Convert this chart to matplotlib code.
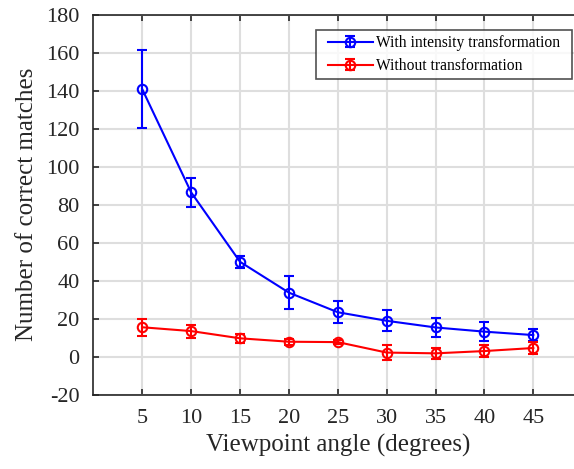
import matplotlib
matplotlib.use("Agg")
import matplotlib.pyplot as plt
from matplotlib.legend_handler import HandlerErrorbar
from matplotlib.container import ErrorbarContainer
import numpy as np

plt.rcParams['font.family'] = ['Liberation Serif', 'DejaVu Serif']
plt.rcParams['axes.unicode_minus'] = False

angles = [5, 10, 15, 20, 25, 30, 35, 40, 45]
with_mean = [140.7, 86.5, 50, 33.8, 23.5, 19, 15.5, 13.3, 11.5]
with_err = [20.4, 7.5, 3, 8.5, 5.7, 5.5, 5, 5, 3.2]
without_mean = [15.6, 13.6, 9.8, 8.0, 7.8, 2.3, 1.9, 3.1, 4.7]
without_err = [4.6, 3.4, 2.5, 1.5, 1.0, 4.0, 3.0, 3.0, 3.0]

xticks = [5, 10, 15, 20, 25, 30, 35, 40, 45]
yticks = list(range(-20, 181, 20))

W, H = 574, 469
fig = plt.figure(figsize=(W/100, H/100), dpi=100)
left, right = 93.4, 582.2
bottom, top = 395, 14.5
ax = fig.add_axes([left/W, 1-bottom/H, (right-left)/W, (bottom-top)/H])

ax.errorbar(angles, with_mean, yerr=with_err, color='#0000ff', marker='o',
            mfc='none', mec='#0000ff', ms=6.8, mew=1.5, lw=1.5, capsize=3.4,
            elinewidth=1.5, capthick=1.5, label='With intensity transformation', zorder=3)
ax.errorbar(angles, without_mean, yerr=without_err, color='#ff0000', marker='o',
            mfc='none', mec='#ff0000', ms=6.8, mew=1.5, lw=1.5, capsize=3.4,
            elinewidth=1.5, capthick=1.5, label='Without transformation', zorder=3)

ax.set_xlim(0, 50)
ax.set_ylim(-20, 180)
ax.set_xticks(xticks)
ax.set_yticks(yticks)
ax.grid(True, color='#dedede', lw=1.5)
ax.set_axisbelow(True)
ax.tick_params(direction='in', length=4, width=1.2, colors='#262626',
               labelsize=16, top=True, right=True, pad=10, labelcolor='#262626')
for s in ax.spines.values():
    s.set_color('#262626')
    s.set_linewidth(1.2)

ax.set_xlabel('Viewpoint angle (degrees)', fontsize=18, color='#262626', labelpad=4)
ax.set_ylabel('Number of correct matches', fontsize=18, color='#262626', labelpad=6)

lx0 = (316 - left) / (right - left)
lx1 = (572 - left) / (right - left)
ly1 = (bottom - 29.5) / (bottom - top)
ly0 = (bottom - 78.5) / (bottom - top)
leg = ax.legend(loc='upper left', bbox_to_anchor=(lx0, ly0, lx1 - lx0, ly1 - ly0),
                mode='expand', fontsize=11.2, frameon=True, fancybox=False,
                edgecolor='#262626', handlelength=3.3, borderpad=0.35,
                labelspacing=0.45, handletextpad=0.2, borderaxespad=0,
                handler_map={ErrorbarContainer: HandlerErrorbar(xpad=0.42, xerr_size=0.3, yerr_size=0.38)})
leg.get_frame().set_linewidth(1.2)

fig.savefig('out.png', dpi=100)
